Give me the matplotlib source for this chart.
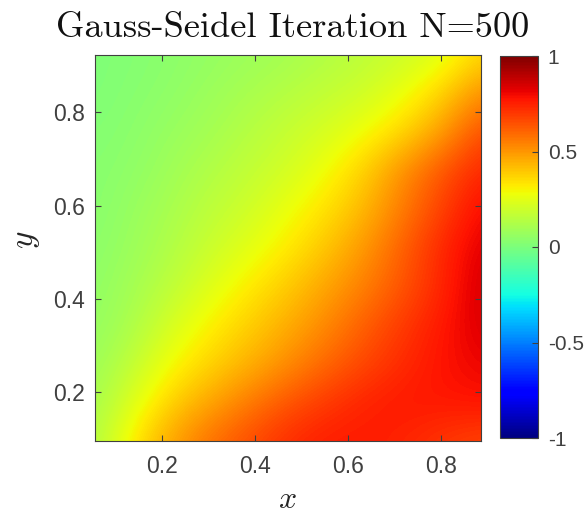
import matplotlib
matplotlib.use('Agg')
import matplotlib.pyplot as plt
import numpy as np

plt.rcParams['font.family'] = ['Liberation Sans', 'DejaVu Sans']
plt.rcParams['mathtext.fontset'] = 'cm'
plt.rcParams['axes.unicode_minus'] = False

# values at evenly spaced nodes, rows run from bottom to top
x_nodes = [0.056, 0.139, 0.222, 0.305, 0.388, 0.471, 0.554, 0.637, 0.720, 0.803, 0.886]
y_nodes = [0.096, 0.179, 0.262, 0.345, 0.428, 0.511, 0.594, 0.677, 0.760, 0.843, 0.926]
row_01 = [0.13, 0.33, 0.48, 0.59, 0.66, 0.73, 0.76, 0.76, 0.74, 0.70, 0.67]
row_02 = [0.10, 0.24, 0.38, 0.47, 0.56, 0.64, 0.70, 0.75, 0.77, 0.77, 0.78]
row_03 = [0.08, 0.17, 0.29, 0.37, 0.44, 0.52, 0.60, 0.67, 0.73, 0.78, 0.81]
row_04 = [0.06, 0.12, 0.22, 0.31, 0.38, 0.45, 0.53, 0.62, 0.70, 0.77, 0.84]
row_05 = [0.05, 0.10, 0.16, 0.24, 0.32, 0.39, 0.47, 0.55, 0.64, 0.74, 0.85]
row_06 = [0.04, 0.08, 0.13, 0.19, 0.25, 0.32, 0.40, 0.50, 0.62, 0.74, 0.83]
row_07 = [0.03, 0.07, 0.11, 0.16, 0.20, 0.27, 0.34, 0.43, 0.56, 0.68, 0.80]
row_08 = [0.03, 0.05, 0.09, 0.13, 0.17, 0.21, 0.28, 0.38, 0.52, 0.64, 0.74]
row_09 = [0.02, 0.04, 0.07, 0.10, 0.14, 0.18, 0.22, 0.28, 0.36, 0.48, 0.66]
row_10 = [0.01, 0.03, 0.05, 0.08, 0.11, 0.14, 0.17, 0.20, 0.27, 0.37, 0.52]
row_11 = [0.01, 0.02, 0.04, 0.06, 0.08, 0.10, 0.13, 0.16, 0.19, 0.24, 0.36]

x_ticks = [0.2, 0.4, 0.6, 0.8]
y_ticks = [0.2, 0.4, 0.6, 0.8]
cb_ticks = [-1, -0.5, 0, 0.5, 1]
cb_labels = ['-1', '-0.5', '0', '0.5', '1']

W, H = 587, 515
gray = '#404040'

fig = plt.figure(figsize=(W / 100, H / 100), dpi=100)
ax = fig.add_axes([95 / W, 1 - 441 / H, 386 / W, 386 / H])

z = np.array([row_01, row_02, row_03, row_04, row_05, row_06, row_07, row_08, row_09, row_10, row_11])
dx = (x_nodes[1] - x_nodes[0]) / 2
dy = (y_nodes[1] - y_nodes[0]) / 2
img = ax.imshow(z, origin='lower', aspect='auto', cmap='jet', vmin=-1, vmax=1, interpolation='bicubic',
                extent=(x_nodes[0] - dx, x_nodes[-1] + dx, y_nodes[0] - dy, y_nodes[-1] + dy))

ax.set_xlim(x_nodes[0], x_nodes[-1])
ax.set_ylim(y_nodes[0], 0.923)
ax.set_xticks(x_ticks)
ax.set_yticks(y_ticks)
ax.tick_params(direction='in', length=4, width=0.8, top=True, right=True, labelsize=16.5,
               colors=gray)
ax.tick_params(axis='x', pad=10)
ax.tick_params(axis='y', pad=7)
for s in ax.spines.values():
    s.set_color(gray)
    s.set_linewidth(0.8)

fig.text(287 / W, 1 - 500 / H, r'$x$', fontsize=23, color='#262626', ha='center', va='center')
fig.text(27 / W, 1 - 240 / H, r'$y$', fontsize=24, color='#262626', ha='center', va='center', rotation=90)
fig.text(293 / W, 1 - 28 / H, 'Gauss-Seidel Iteration N=500', family='cmr10', fontsize=26.2,
         color='#111111', ha='center', va='center')

cax = fig.add_axes([500 / W, 1 - 438 / H, 38 / W, 382 / H])
cb = fig.colorbar(img, cax=cax)
cb.set_ticks(cb_ticks, labels=cb_labels)
cax.tick_params(direction='in', length=4, width=0.8, labelsize=15, colors=gray, pad=7)
cb.outline.set_edgecolor(gray)
cb.outline.set_linewidth(0.8)

fig.savefig('out.png', dpi=100)
